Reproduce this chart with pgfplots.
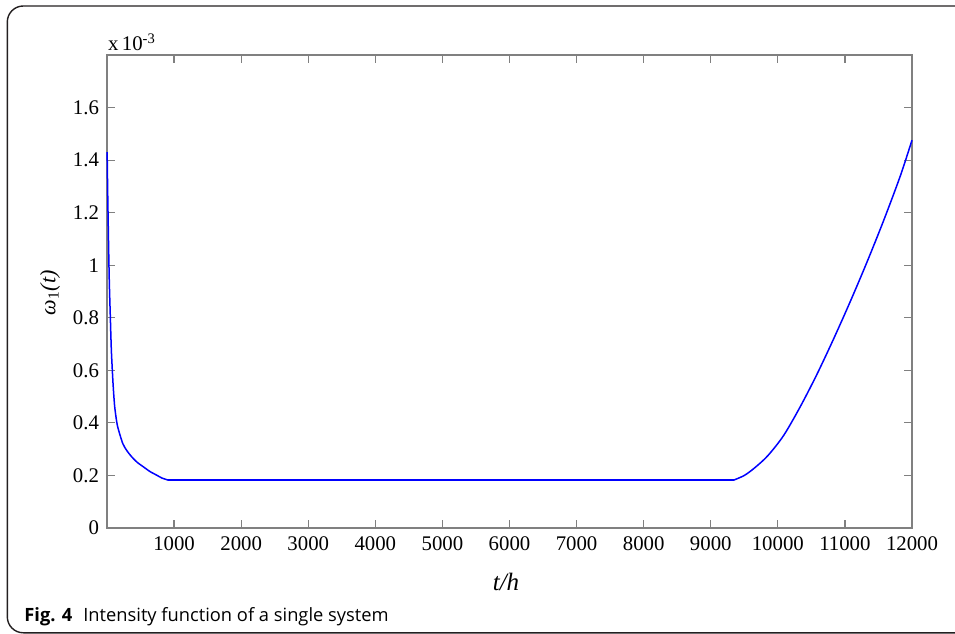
\documentclass[border=0pt]{standalone}
\usepackage{pgfplots}
\pgfplotsset{compat=1.18}
\usepackage{fontspec}
\setmainfont{Liberation Serif}
\newfontfamily\capfont{Open Sans}
\definecolor{axgray}{RGB}{128,128,128}
\definecolor{frame}{RGB}{35,31,32}
\begin{document}
\begin{tikzpicture}
\path[use as bounding box] (0,0) rectangle (477.5bp,317bp);
\begin{scope}
\clip (0,0) rectangle (477.5bp,317bp);
\draw[frame, line width=0.7bp, rounded corners=8bp] (3.65bp,0.6bp) rectangle (500bp,314bp);
\end{scope}
\begin{axis}[
  at={(53.5bp,53bp)}, anchor=south west,
  width=402.5bp, height=236.5bp, scale only axis,
  xmin=0, xmax=12000, ymin=0, ymax=1.8,
  xtick={1000,2000,3000,4000,5000,6000,7000,8000,9000,10000,11000,12000},
  ytick={0,0.2,0.4,0.6,0.8,1,1.2,1.4,1.6},
  scaled x ticks=false, scaled y ticks=false,
  /pgf/number format/1000 sep={},
  /pgf/number format/assume math mode=true,
  tick align=inside,
  major tick length=4bp,
  axis line style={axgray, line width=0.6bp},
  tick style={axgray, line width=0.6bp},
  ticklabel style={font=\fontsize{10.4bp}{12bp}\selectfont, black},
  xticklabel style={yshift=-1bp},
  yticklabel style={xshift=-0.5bp},
  clip=false,
]
\addplot[blue, line width=0.75bp, smooth, tension=0.4] coordinates {
(2,1.43) (12,1.25) (25,1.056) (35,0.93) (50,0.80) (65,0.676) (90,0.55)
(115,0.461) (155,0.39) (234,0.322) (300,0.293) (368,0.271) (450,0.25)
(541,0.233) (640,0.215) (741,0.201) (820,0.19) (915,0.182)
};
\addplot[blue, line width=0.75bp] coordinates {(915,0.182) (9340,0.182)};
\addplot[blue, line width=0.75bp, smooth, tension=0.5] coordinates {
(9340,0.182) (9500,0.2) (9650,0.228) (9850,0.275) (10086,0.352)
(10335,0.462) (10583,0.585) (10832,0.72) (11080,0.862) (11329,1.012)
(11577,1.17) (11826,1.34) (12000,1.476)
};
\end{axis}
\node[anchor=base west, inner sep=0pt, font=\fontsize{10.4bp}{12bp}\selectfont] at (53.8bp,291.5bp) {x\,10\textsuperscript{-3}};
\node[rotate=90, inner sep=0pt, font=\fontsize{11bp}{13bp}\selectfont\itshape] at (25bp,170.5bp) {ω\textsubscript{\upshape 1}(t)};
\node[inner sep=0pt, font=\fontsize{12.5bp}{14bp}\selectfont\itshape] at (253bp,26bp) {t/h};
\node[anchor=base west, inner sep=0pt, font=\capfont\fontsize{9.15bp}{11bp}\selectfont] at (12bp,6.4bp) {\textbf{Fig. 4}\hspace{0.6em}Intensity function of a single system};
\end{tikzpicture}
\end{document}
